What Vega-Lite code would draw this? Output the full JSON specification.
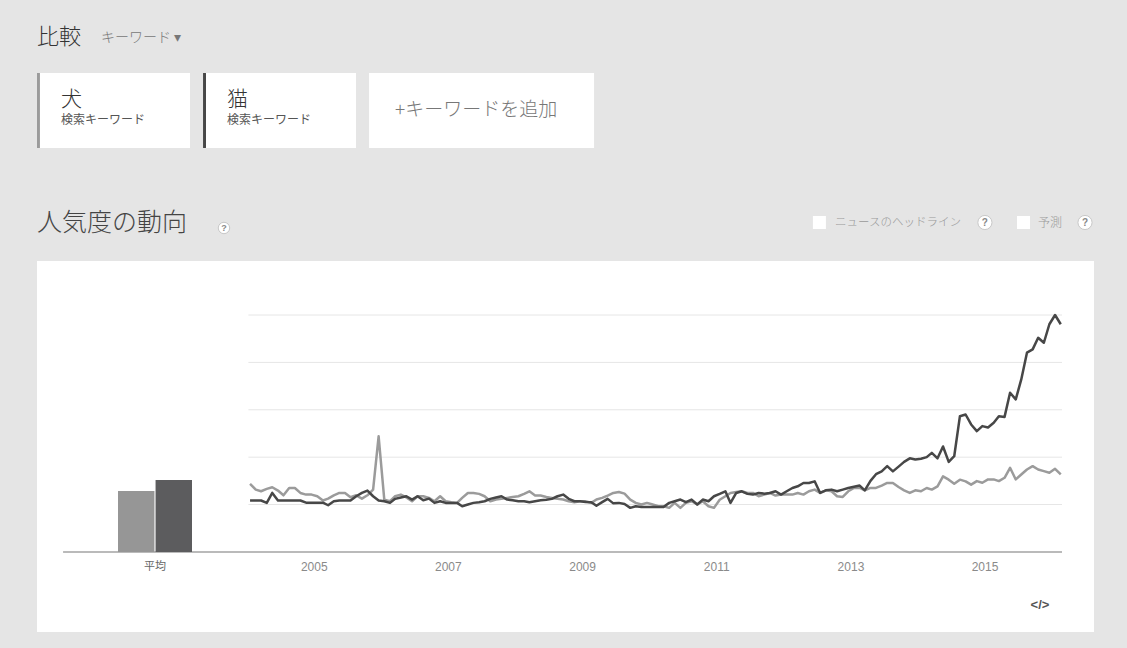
{
  "$schema": "https://vega.github.io/schema/vega-lite/v6.json",
  "width": 1057,
  "height": 371,
  "autosize": {"type": "none"},
  "padding": {"left": 37, "top": 261, "right": 33, "bottom": 16},
  "background": "#e5e5e5",
  "config": {
    "view": {"fill": "white", "stroke": null},
    "font": "Noto Sans CJK JP",
    "text": {"font": "Noto Sans CJK JP"}
  },
  "layer": [
    {
      "layer": [
        {
          "data": {"values": [{"g": 20}, {"g": 40}, {"g": 60}, {"g": 80}, {"g": 100}]},
          "mark": {"type": "rule", "stroke": "#e6e6e6", "strokeWidth": 1},
          "encoding": {
            "x": {"datum": {"year": 2003, "month": 12, "date": 23}, "type": "temporal", "axis": null},
            "x2": {"datum": {"year": 2016, "month": 2, "date": 8}},
            "y": {"field": "g", "type": "quantitative", "axis": null, "scale": {"domain": [-33.8, 122.8], "zero": false, "nice": false}}
          }
        },
        {
          "data": {"values": [{}]},
          "mark": {"type": "rule", "stroke": "#a3a3a3", "strokeWidth": 1.5},
          "encoding": {
            "x": {"datum": {"year": 2001, "month": 3, "date": 19}, "type": "temporal", "axis": null},
            "x2": {"datum": {"year": 2016, "month": 2, "date": 8}},
            "y": {"datum": 0, "type": "quantitative", "axis": null}
          }
        },
        {
          "data": {"values": [
            {"yr": "2005", "d": "2005-01-01"}, {"yr": "2007", "d": "2007-01-01"}, {"yr": "2009", "d": "2009-01-01"},
            {"yr": "2011", "d": "2011-01-01"}, {"yr": "2013", "d": "2013-01-01"}, {"yr": "2015", "d": "2015-01-01"}
          ]},
          "mark": {"type": "text", "align": "center", "baseline": "middle", "dx": -3, "font": "Liberation Sans", "fontSize": 12, "color": "#8a8a8a"},
          "encoding": {
            "x": {"field": "d", "type": "temporal", "axis": null},
            "y": {"datum": -6.4, "type": "quantitative", "axis": null},
            "text": {"field": "yr"}
          }
        },
        {
          "data": {"values": [
            {"d": "2004-01", "犬": 28.7, "猫": 21.7}, {"d": "2004-02", "犬": 26.3, "猫": 21.7}, {"d": "2004-03", "犬": 25.6, "猫": 21.7},
            {"d": "2004-04", "犬": 26.6, "猫": 20.7}, {"d": "2004-05", "犬": 27.3, "猫": 24.9}, {"d": "2004-06", "犬": 25.9, "猫": 21.7},
            {"d": "2004-07", "犬": 23.9, "猫": 21.7}, {"d": "2004-08", "犬": 27.0, "猫": 21.7}, {"d": "2004-09", "犬": 27.0, "猫": 21.7},
            {"d": "2004-10", "犬": 24.9, "猫": 21.7}, {"d": "2004-11", "犬": 24.2, "猫": 20.8}, {"d": "2004-12", "犬": 24.2, "猫": 20.8},
            {"d": "2005-01", "犬": 23.5, "猫": 20.8}, {"d": "2005-02", "犬": 21.7, "猫": 20.8}, {"d": "2005-03", "犬": 22.5, "猫": 19.7},
            {"d": "2005-04", "犬": 23.9, "猫": 21.4}, {"d": "2005-05", "犬": 24.9, "猫": 21.7}, {"d": "2005-06", "犬": 24.9, "猫": 21.7},
            {"d": "2005-07", "犬": 23.1, "猫": 21.7}, {"d": "2005-08", "犬": 23.9, "猫": 23.5}, {"d": "2005-09", "犬": 22.5, "猫": 24.9},
            {"d": "2005-10", "犬": 23.9, "猫": 25.9}, {"d": "2005-11", "犬": 26.3, "猫": 23.5}, {"d": "2005-12", "犬": 48.8, "猫": 21.7},
            {"d": "2006-01", "犬": 22.0, "猫": 21.4}, {"d": "2006-02", "犬": 21.4, "猫": 20.7}, {"d": "2006-03", "犬": 23.5, "猫": 22.4},
            {"d": "2006-04", "犬": 24.2, "猫": 23.0}, {"d": "2006-05", "犬": 23.0, "猫": 23.5}, {"d": "2006-06", "犬": 21.4, "猫": 22.1},
            {"d": "2006-07", "犬": 23.5, "猫": 23.5}, {"d": "2006-08", "犬": 23.5, "猫": 21.8}, {"d": "2006-09", "犬": 22.8, "猫": 22.5},
            {"d": "2006-10", "犬": 21.4, "猫": 20.7}, {"d": "2006-11", "犬": 23.5, "猫": 21.4}, {"d": "2006-12", "犬": 21.4, "猫": 20.7},
            {"d": "2007-01", "犬": 21.0, "猫": 20.7}, {"d": "2007-02", "犬": 20.7, "猫": 20.7}, {"d": "2007-03", "犬": 22.8, "猫": 19.3},
            {"d": "2007-04", "犬": 24.9, "猫": 20.0}, {"d": "2007-05", "犬": 24.9, "猫": 20.7}, {"d": "2007-06", "犬": 24.5, "猫": 21.0},
            {"d": "2007-07", "犬": 23.5, "猫": 21.4}, {"d": "2007-08", "犬": 21.4, "猫": 22.4}, {"d": "2007-09", "犬": 22.1, "猫": 23.0},
            {"d": "2007-10", "犬": 22.4, "猫": 23.5}, {"d": "2007-11", "犬": 22.8, "猫": 22.1}, {"d": "2007-12", "犬": 23.2, "猫": 21.8},
            {"d": "2008-01", "犬": 23.5, "猫": 21.4}, {"d": "2008-02", "犬": 24.5, "猫": 21.4}, {"d": "2008-03", "犬": 25.6, "猫": 21.0},
            {"d": "2008-04", "犬": 23.8, "猫": 21.4}, {"d": "2008-05", "犬": 23.8, "猫": 21.8}, {"d": "2008-06", "犬": 23.2, "猫": 22.0},
            {"d": "2008-07", "犬": 22.8, "猫": 22.4}, {"d": "2008-08", "犬": 22.4, "猫": 23.5}, {"d": "2008-09", "犬": 22.1, "猫": 24.2},
            {"d": "2008-10", "犬": 21.4, "猫": 22.4}, {"d": "2008-11", "犬": 21.0, "猫": 21.4}, {"d": "2008-12", "犬": 21.4, "猫": 21.4},
            {"d": "2009-01", "犬": 21.4, "猫": 21.1}, {"d": "2009-02", "犬": 20.7, "猫": 21.0}, {"d": "2009-03", "犬": 22.1, "猫": 19.5},
            {"d": "2009-04", "犬": 22.8, "猫": 21.0}, {"d": "2009-05", "犬": 23.8, "猫": 22.4}, {"d": "2009-06", "犬": 24.9, "猫": 20.5},
            {"d": "2009-07", "犬": 25.3, "猫": 20.7}, {"d": "2009-08", "犬": 24.6, "猫": 20.2}, {"d": "2009-09", "犬": 22.1, "猫": 18.6},
            {"d": "2009-10", "犬": 20.7, "猫": 19.3}, {"d": "2009-11", "犬": 20.0, "猫": 19.0}, {"d": "2009-12", "犬": 20.7, "猫": 19.0},
            {"d": "2010-01", "犬": 20.0, "猫": 19.0}, {"d": "2010-02", "犬": 19.3, "猫": 19.0}, {"d": "2010-03", "犬": 19.3, "猫": 19.0},
            {"d": "2010-04", "犬": 18.6, "猫": 20.7}, {"d": "2010-05", "犬": 20.7, "猫": 21.4}, {"d": "2010-06", "犬": 18.6, "猫": 22.1},
            {"d": "2010-07", "犬": 20.7, "猫": 21.0}, {"d": "2010-08", "犬": 21.4, "猫": 22.1}, {"d": "2010-09", "犬": 20.0, "猫": 20.0},
            {"d": "2010-10", "犬": 21.4, "猫": 22.1}, {"d": "2010-11", "犬": 19.3, "猫": 21.4}, {"d": "2010-12", "犬": 18.6, "猫": 23.5},
            {"d": "2011-01", "犬": 22.0, "猫": 24.5}, {"d": "2011-02", "犬": 23.5, "猫": 25.6}, {"d": "2011-03", "犬": 24.9, "猫": 20.7},
            {"d": "2011-04", "犬": 25.3, "猫": 24.9}, {"d": "2011-05", "犬": 25.6, "猫": 25.6}, {"d": "2011-06", "犬": 24.9, "猫": 24.5},
            {"d": "2011-07", "犬": 24.9, "猫": 24.2}, {"d": "2011-08", "犬": 23.5, "猫": 24.9}, {"d": "2011-09", "犬": 24.2, "猫": 24.6},
            {"d": "2011-10", "犬": 24.9, "猫": 24.9}, {"d": "2011-11", "犬": 23.8, "猫": 25.6}, {"d": "2011-12", "犬": 24.2, "猫": 24.2},
            {"d": "2012-01", "犬": 24.2, "猫": 25.6}, {"d": "2012-02", "犬": 24.2, "猫": 27.0}, {"d": "2012-03", "犬": 24.9, "猫": 27.7},
            {"d": "2012-04", "犬": 24.2, "猫": 29.1}, {"d": "2012-05", "犬": 25.6, "猫": 29.1}, {"d": "2012-06", "犬": 26.3, "猫": 29.8},
            {"d": "2012-07", "犬": 24.9, "猫": 24.9}, {"d": "2012-08", "犬": 26.0, "猫": 26.0}, {"d": "2012-09", "犬": 25.6, "猫": 26.3},
            {"d": "2012-10", "犬": 23.5, "猫": 25.6}, {"d": "2012-11", "犬": 23.2, "猫": 26.3}, {"d": "2012-12", "犬": 25.6, "猫": 27.0},
            {"d": "2013-01", "犬": 27.0, "猫": 27.5}, {"d": "2013-02", "犬": 27.0, "猫": 28.0}, {"d": "2013-03", "犬": 26.0, "猫": 26.0},
            {"d": "2013-04", "犬": 27.0, "猫": 30.0}, {"d": "2013-05", "犬": 27.0, "猫": 32.8}, {"d": "2013-06", "犬": 28.0, "猫": 34.0},
            {"d": "2013-07", "犬": 29.1, "猫": 36.2}, {"d": "2013-08", "犬": 29.1, "猫": 34.0}, {"d": "2013-09", "犬": 27.4, "猫": 36.0},
            {"d": "2013-10", "犬": 26.0, "猫": 38.0}, {"d": "2013-11", "犬": 24.9, "猫": 39.5}, {"d": "2013-12", "犬": 26.0, "猫": 39.0},
            {"d": "2014-01", "犬": 25.6, "猫": 39.3}, {"d": "2014-02", "犬": 27.0, "猫": 40.0}, {"d": "2014-03", "犬": 26.3, "猫": 41.8},
            {"d": "2014-04", "犬": 27.7, "猫": 39.5}, {"d": "2014-05", "犬": 31.9, "猫": 44.5}, {"d": "2014-06", "犬": 30.5, "猫": 38.0},
            {"d": "2014-07", "犬": 28.8, "猫": 40.4}, {"d": "2014-08", "犬": 30.5, "猫": 57.3}, {"d": "2014-09", "犬": 29.8, "猫": 58.0},
            {"d": "2014-10", "犬": 28.4, "猫": 53.8}, {"d": "2014-11", "犬": 29.9, "猫": 51.0}, {"d": "2014-12", "犬": 29.2, "猫": 53.1},
            {"d": "2015-01", "犬": 30.6, "猫": 52.5}, {"d": "2015-02", "犬": 30.6, "猫": 54.5}, {"d": "2015-03", "犬": 29.9, "猫": 57.3},
            {"d": "2015-04", "犬": 31.3, "猫": 57.0}, {"d": "2015-05", "犬": 35.5, "猫": 67.2}, {"d": "2015-06", "犬": 30.6, "猫": 64.4},
            {"d": "2015-07", "犬": 32.7, "猫": 72.8}, {"d": "2015-08", "犬": 34.8, "猫": 84.1}, {"d": "2015-09", "犬": 36.2, "猫": 85.5},
            {"d": "2015-10", "犬": 34.8, "猫": 90.4}, {"d": "2015-11", "犬": 34.1, "猫": 88.3}, {"d": "2015-12", "犬": 33.4, "猫": 96.1},
            {"d": "2016-01", "犬": 35.1, "猫": 100}, {"d": "2016-02", "犬": 32.7, "猫": 96.1}
          ]},
          "transform": [{"fold": ["犬", "猫"], "as": ["k", "v"]}],
          "mark": {"type": "line", "strokeWidth": 2.5, "strokeJoin": "round"},
          "encoding": {
            "x": {
              "field": "d", "type": "temporal", "axis": null,
              "scale": {"domain": [{"year": 2000, "month": 10, "date": 28}, {"year": 2016, "month": 7, "date": 31}]}
            },
            "y": {"field": "v", "type": "quantitative", "axis": null, "scale": {"domain": [-33.8, 122.8], "zero": false, "nice": false}},
            "stroke": {"field": "k", "type": "nominal", "scale": {"domain": ["犬", "猫"], "range": ["#9b9b9b", "#474747"]}, "legend": null}
          }
        },
        {
          "data": {"values": [{}]},
          "mark": {"type": "rect", "fill": "white"},
          "encoding": {
            "x": {"datum": {"year": 2000, "month": 10, "date": 28}, "type": "temporal", "axis": null},
            "x2": {"datum": {"year": 2003, "month": 2, "date": 8}},
            "y": {"datum": 202.15, "type": "quantitative", "axis": null},
            "y2": {"datum": 170.5}
          }
        },
        {
          "data": {"values": [{}]},
          "mark": {"type": "rect", "fill": "white"},
          "encoding": {
            "x": {"datum": {"year": 2003, "month": 4, "date": 20}, "type": "temporal", "axis": null},
            "x2": {"datum": {"year": 2005, "month": 7, "date": 31}},
            "y": {"datum": 202.15, "type": "quantitative", "axis": null},
            "y2": {"datum": 170.5}
          }
        },
        {
          "data": {"values": [{}]},
          "mark": {"type": "rect", "fill": "white"},
          "encoding": {
            "x": {"datum": {"year": 2005, "month": 10, "date": 10}, "type": "temporal", "axis": null},
            "x2": {"datum": {"year": 2009, "month": 2, "date": 16}},
            "y": {"datum": 202.15, "type": "quantitative", "axis": null},
            "y2": {"datum": 170.5}
          }
        },
        {
          "data": {"values": [{}]},
          "mark": {"type": "rect", "fill": "#9b9b9b"},
          "encoding": {
            "x": {"datum": {"year": 2000, "month": 10, "date": 28}, "type": "temporal", "axis": null},
            "x2": {"datum": {"year": 2000, "month": 11, "date": 13}},
            "y": {"datum": 202.15, "type": "quantitative", "axis": null},
            "y2": {"datum": 170.5}
          }
        },
        {
          "data": {"values": [{}]},
          "mark": {"type": "rect", "fill": "#474747"},
          "encoding": {
            "x": {"datum": {"year": 2003, "month": 4, "date": 20}, "type": "temporal", "axis": null},
            "x2": {"datum": {"year": 2003, "month": 5, "date": 6}},
            "y": {"datum": 202.15, "type": "quantitative", "axis": null},
            "y2": {"datum": 170.5}
          }
        },
        {
          "data": {"values": [{"t": "比較"}]},
          "mark": {"type": "text", "align": "left", "baseline": "middle", "fontSize": 22, "fontWeight": 300, "color": "#333333"},
          "encoding": {
            "x": {"datum": {"year": 2000, "month": 10, "date": 28}, "type": "temporal", "axis": null},
            "y": {"datum": 217.35, "type": "quantitative", "axis": null},
            "text": {"field": "t"}
          }
        },
        {
          "data": {"values": [{"t": "キーワード ▾"}]},
          "mark": {"type": "text", "align": "left", "baseline": "middle", "fontSize": 14, "fontWeight": 300, "color": "#777777"},
          "encoding": {
            "x": {"datum": {"year": 2001, "month": 10, "date": 12}, "type": "temporal", "axis": null},
            "y": {"datum": 216.9, "type": "quantitative", "axis": null},
            "text": {"field": "t"}
          }
        },
        {
          "data": {"values": [{"t": "犬"}]},
          "mark": {"type": "text", "align": "left", "baseline": "middle", "fontSize": 21, "fontWeight": 300, "color": "#333333"},
          "encoding": {
            "x": {"datum": {"year": 2001, "month": 3, "date": 8}, "type": "temporal", "axis": null},
            "y": {"datum": 190.76, "type": "quantitative", "axis": null},
            "text": {"field": "t"}
          }
        },
        {
          "data": {"values": [{"t": "検索キーワード"}]},
          "mark": {"type": "text", "align": "left", "baseline": "middle", "fontSize": 12, "color": "#555555"},
          "encoding": {
            "x": {"datum": {"year": 2001, "month": 3, "date": 8}, "type": "temporal", "axis": null},
            "y": {"datum": 182.3, "type": "quantitative", "axis": null},
            "text": {"field": "t"}
          }
        },
        {
          "data": {"values": [{"t": "猫"}]},
          "mark": {"type": "text", "align": "left", "baseline": "middle", "fontSize": 21, "fontWeight": 300, "color": "#333333"},
          "encoding": {
            "x": {"datum": {"year": 2003, "month": 8, "date": 29}, "type": "temporal", "axis": null},
            "y": {"datum": 190.76, "type": "quantitative", "axis": null},
            "text": {"field": "t"}
          }
        },
        {
          "data": {"values": [{"t": "検索キーワード"}]},
          "mark": {"type": "text", "align": "left", "baseline": "middle", "fontSize": 12, "color": "#555555"},
          "encoding": {
            "x": {"datum": {"year": 2003, "month": 8, "date": 29}, "type": "temporal", "axis": null},
            "y": {"datum": 182.3, "type": "quantitative", "axis": null},
            "text": {"field": "t"}
          }
        },
        {
          "data": {"values": [{"t": "+キーワードを追加"}]},
          "mark": {"type": "text", "align": "left", "baseline": "middle", "fontSize": 19, "fontWeight": 300, "color": "#777777"},
          "encoding": {
            "x": {"datum": {"year": 2006, "month": 2, "date": 28}, "type": "temporal", "axis": null},
            "y": {"datum": 186.5, "type": "quantitative", "axis": null},
            "text": {"field": "t"}
          }
        },
        {
          "data": {"values": [{"t": "人気度の動向"}]},
          "mark": {"type": "text", "align": "left", "baseline": "middle", "fontSize": 25, "fontWeight": 300, "color": "#444444"},
          "encoding": {
            "x": {"datum": {"year": 2000, "month": 10, "date": 28}, "type": "temporal", "axis": null},
            "y": {"datum": 138.84, "type": "quantitative", "axis": null},
            "text": {"field": "t"}
          }
        },
        {
          "data": {"values": [{"t": "ニュースのヘッドライン"}]},
          "mark": {"type": "text", "align": "left", "baseline": "middle", "fontSize": 11.5, "fontWeight": 300, "color": "#9a9a9a"},
          "encoding": {
            "x": {"datum": {"year": 2012, "month": 9, "date": 20}, "type": "temporal", "axis": null},
            "y": {"datum": 139.05, "type": "quantitative", "axis": null},
            "text": {"field": "t"}
          }
        },
        {
          "data": {"values": [{"t": "予測"}]},
          "mark": {"type": "text", "align": "left", "baseline": "middle", "fontSize": 12, "fontWeight": 300, "color": "#9a9a9a"},
          "encoding": {
            "x": {"datum": {"year": 2015, "month": 9, "date": 30}, "type": "temporal", "axis": null},
            "y": {"datum": 139.05, "type": "quantitative", "axis": null},
            "text": {"field": "t"}
          }
        },
        {
          "data": {"values": [{"t": "</>"}]},
          "mark": {"type": "text", "align": "center", "baseline": "middle", "fontSize": 13, "fontWeight": "bold", "font": "Liberation Sans", "color": "#555555"},
          "encoding": {
            "x": {"datum": {"year": 2015, "month": 10, "date": 11}, "type": "temporal", "axis": null},
            "y": {"datum": -22.4, "type": "quantitative", "axis": null},
            "text": {"field": "t"}
          }
        },
        {
          "data": {"values": [{}]},
          "mark": {"type": "point", "shape": "square", "size": 169, "filled": true, "color": "white", "opacity": 1},
          "encoding": {
            "x": {"datum": {"year": 2012, "month": 6, "date": 27}, "type": "temporal", "axis": null},
            "y": {"datum": 139.05, "type": "quantitative", "axis": null}
          }
        },
        {
          "data": {"values": [{}]},
          "mark": {"type": "point", "shape": "square", "size": 169, "filled": true, "color": "white", "opacity": 1},
          "encoding": {
            "x": {"datum": {"year": 2015, "month": 7, "date": 13}, "type": "temporal", "axis": null},
            "y": {"datum": 139.05, "type": "quantitative", "axis": null}
          }
        },
        {
          "data": {"values": [{}]},
          "mark": {"type": "point", "shape": "circle", "size": 130, "fill": "white", "stroke": "#c8c8c8", "strokeWidth": 1, "opacity": 1},
          "encoding": {
            "x": {"datum": {"year": 2003, "month": 8, "date": 12}, "type": "temporal", "axis": null},
            "y": {"datum": 136.73, "type": "quantitative", "axis": null}
          }
        },
        {
          "data": {"values": [{}]},
          "mark": {"type": "point", "shape": "circle", "size": 200, "fill": "white", "stroke": "#c8c8c8", "strokeWidth": 1, "opacity": 1},
          "encoding": {
            "x": {"datum": {"year": 2014, "month": 12, "date": 15}, "type": "temporal", "axis": null},
            "y": {"datum": 139.05, "type": "quantitative", "axis": null}
          }
        },
        {
          "data": {"values": [{}]},
          "mark": {"type": "point", "shape": "circle", "size": 200, "fill": "white", "stroke": "#c8c8c8", "strokeWidth": 1, "opacity": 1},
          "encoding": {
            "x": {"datum": {"year": 2016, "month": 6, "date": 12}, "type": "temporal", "axis": null},
            "y": {"datum": 139.05, "type": "quantitative", "axis": null}
          }
        },
        {
          "data": {"values": [{"t": "?"}]},
          "mark": {"type": "text", "align": "center", "baseline": "middle", "fontSize": 9, "fontWeight": "bold", "font": "Liberation Sans", "color": "#888888"},
          "encoding": {
            "x": {"datum": {"year": 2003, "month": 8, "date": 12}, "type": "temporal", "axis": null},
            "y": {"datum": 136.73, "type": "quantitative", "axis": null},
            "text": {"field": "t"}
          }
        },
        {
          "data": {"values": [{"t": "?"}]},
          "mark": {"type": "text", "align": "center", "baseline": "middle", "fontSize": 10, "fontWeight": "bold", "font": "Liberation Sans", "color": "#888888"},
          "encoding": {
            "x": {"datum": {"year": 2014, "month": 12, "date": 15}, "type": "temporal", "axis": null},
            "y": {"datum": 139.05, "type": "quantitative", "axis": null},
            "text": {"field": "t"}
          }
        },
        {
          "data": {"values": [{"t": "?"}]},
          "mark": {"type": "text", "align": "center", "baseline": "middle", "fontSize": 10, "fontWeight": "bold", "font": "Liberation Sans", "color": "#888888"},
          "encoding": {
            "x": {"datum": {"year": 2016, "month": 6, "date": 12}, "type": "temporal", "axis": null},
            "y": {"datum": 139.05, "type": "quantitative", "axis": null},
            "text": {"field": "t"}
          }
        }
      ]
    },
    {
      "data": {"values": [{"g": "平均", "k": "犬", "v": 25.7}, {"g": "平均", "k": "猫", "v": 30.4}]},
      "mark": {"type": "bar"},
      "encoding": {
        "x": {
          "field": "g", "type": "nominal",
          "scale": {"range": [81, 155], "paddingInner": 0, "paddingOuter": 0},
          "axis": {
            "orient": "bottom", "offset": -80, "ticks": false, "domain": false, "grid": false, "title": null,
            "labelAngle": 0, "labelFont": "Noto Sans CJK JP", "labelFontSize": 11, "labelColor": "#666666", "labelPadding": 8
          }
        },
        "xOffset": {"field": "k", "type": "nominal", "scale": {"paddingInner": 0.03}},
        "y": {"field": "v", "type": "quantitative", "axis": null, "scale": {"domain": [-33.8, 122.8], "zero": false, "nice": false}},
        "y2": {"datum": 0},
        "fill": {"field": "k", "type": "nominal", "scale": {"domain": ["犬", "猫"], "range": ["#969696", "#5c5c5e"]}, "legend": null}
      }
    }
  ],
  "resolve": {"scale": {"x": "independent"}, "axis": {"x": "independent"}}
}
